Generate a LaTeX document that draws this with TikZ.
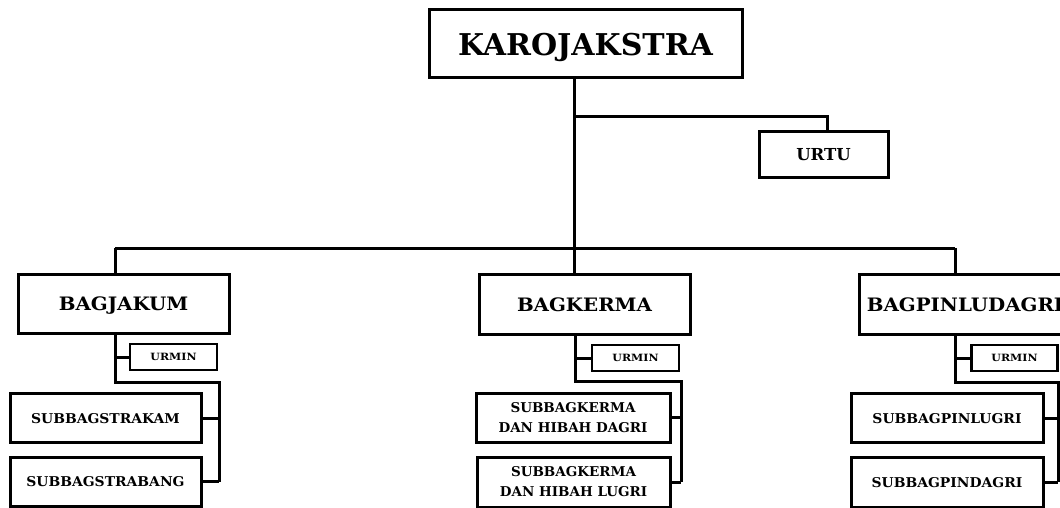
\documentclass[tikz,border=0pt]{standalone}
\usepackage{fontspec}
\setmainfont{DejaVu Serif}
\begin{document}
\begin{tikzpicture}[x=1pt,y=-1pt,
  box/.style={draw=black,line width=3pt,fill=white,inner sep=0pt,align=center},
  caps/.style={text depth=0pt},
  wire/.style={draw=black,line width=3pt},
  thin/.style={draw=black,line width=2.6pt},
  big/.style={caps,font=\bfseries\fontsize{30}{32}\selectfont},
  mid/.style={caps,font=\bfseries\fontsize{18.5}{20}\selectfont},
  sub/.style={font=\bfseries\fontsize{13.5}{20}\selectfont},
  tiny/.style={caps,font=\bfseries\fontsize{10}{12}\selectfont},
  urtustyle/.style={caps,font=\bfseries\fontsize{16.5}{18}\selectfont}]
\useasboundingbox (0,0) rectangle (1060,508);
\clip (0,0) rectangle (1060,508);
\fill[white] (0,0) rectangle (1060,508);

% head and staff unit
\node[box,big,minimum width=313pt,minimum height=68pt] (karo) at (585.5,44) {KAROJAKSTRA};
\node[box,urtustyle,minimum width=129pt,minimum height=45pt] (urtu) at (823.5,154.5) {URTU};

% division heads
\node[box,mid,minimum width=211pt,minimum height=59pt] (bagjakum) at (123.5,304) {\scalebox{1.07}[1]{BAGJAKUM}};
\node[box,mid,minimum width=211pt,minimum height=60pt] (bagkerma) at (584.5,304.5) {\scalebox{1.07}[1]{BAGKERMA}};
\node[box,mid,minimum width=212pt,minimum height=60pt] (bagpin) at (965,304.5) {\scalebox{1.07}[1]{BAGPINLUDAGRI}};

% administration units
\node[box,thin,tiny,minimum width=87pt,minimum height=26pt] (urmin1) at (173.5,357) {\scalebox{1.1}[1]{URMIN}};
\node[box,thin,tiny,minimum width=87pt,minimum height=26pt] (urmin2) at (635.5,358) {\scalebox{1.1}[1]{URMIN}};
\node[box,thin,tiny,minimum width=86pt,minimum height=26pt] (urmin3) at (1014.5,358) {\scalebox{1.1}[1]{URMIN}};

% sub-sections
\node[box,sub,caps,minimum width=191pt,minimum height=49pt] (sub1a) at (105.5,418) {\scalebox{1.03}[1]{SUBBAGSTRAKAM}};
\node[box,sub,caps,minimum width=191pt,minimum height=49pt] (sub1b) at (105.5,481.5) {\scalebox{1.03}[1]{SUBBAGSTRABANG}};
\node[box,sub,minimum width=194pt,minimum height=49pt] (sub2a) at (573,417.5) {SUBBAGKERMA\\DAN HIBAH DAGRI};
\node[box,sub,minimum width=193pt,minimum height=50pt] (sub2b) at (573.5,482) {SUBBAGKERMA\\DAN HIBAH LUGRI};
\node[box,sub,caps,minimum width=192pt,minimum height=49pt] (sub3a) at (947,418) {\scalebox{1.03}[1]{SUBBAGPINLUGRI}};
\node[box,sub,caps,minimum width=192pt,minimum height=50pt] (sub3b) at (947,482) {\scalebox{1.03}[1]{SUBBAGPINDAGRI}};

% junction points
\coordinate (trunk) at (574,248);
\coordinate (urtuj) at (574,117);
\coordinate (busL) at (115,248);
\coordinate (busR) at (955,248);
\coordinate (j1) at (115,382);
\coordinate (k1) at (219,382);
\coordinate (j2) at (575,381);
\coordinate (k2) at (681,381);
\coordinate (j3) at (955,382);
\coordinate (k3) at (1058,382);

% connectors
\draw[wire] (karo.south -| trunk) -- (trunk);
\draw[wire] (urtuj) -| (urtu.north -| 827,0);
\draw[wire] (busL) -- (busR);
\draw[wire] (busL) -- (bagjakum.north -| busL);
\draw[wire] (trunk) -- (bagkerma.north -| trunk);
\draw[wire] (busR) -- (bagpin.north -| busR);

\draw[wire] (bagjakum.south -| j1) -- (j1) -- (k1) -- (k1 |- sub1b.east);
\draw[wire] (urmin1.west -| j1) -- (urmin1.west);
\draw[wire] (sub1a.east) -- (sub1a.east -| k1);
\draw[wire] (sub1b.east) -- (sub1b.east -| k1);

\draw[wire] (bagkerma.south -| j2) -- (j2) -- (k2) -- (k2 |- sub2b.east);
\draw[wire] (urmin2.west -| j2) -- (urmin2.west);
\draw[wire] (sub2a.east) -- (sub2a.east -| k2);
\draw[wire] (sub2b.east) -- (sub2b.east -| k2);

\draw[wire] (bagpin.south -| j3) -- (j3) -- (k3) -- (k3 |- sub3b.east);
\draw[wire] (urmin3.west -| j3) -- (urmin3.west);
\draw[wire] (sub3a.east) -- (sub3a.east -| k3);
\draw[wire] (sub3b.east) -- (sub3b.east -| k3);
\end{tikzpicture}
\end{document}
